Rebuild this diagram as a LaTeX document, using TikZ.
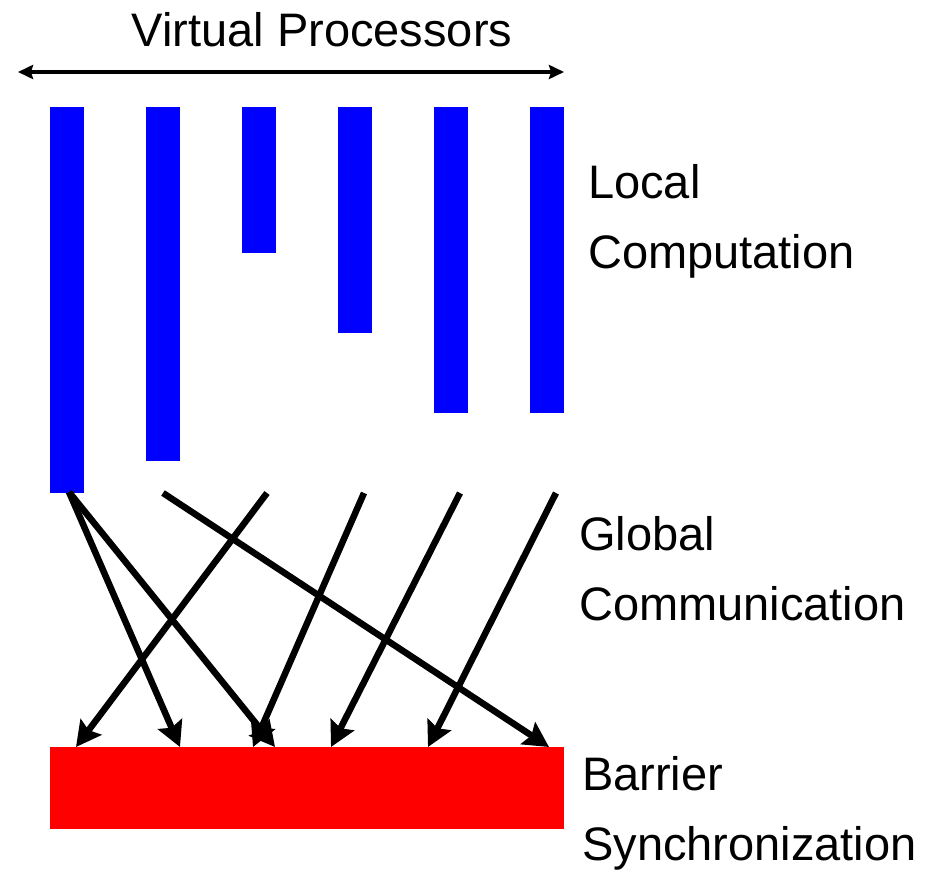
\documentclass[tikz,border=0pt]{standalone}
\usepackage{fontspec}
\setmainfont{Liberation Sans}
\usetikzlibrary{arrows.meta}
\definecolor{procblue}{RGB}{0,0,255}
\definecolor{barred}{RGB}{255,0,0}
\tikzset{
  procbar/.style={fill=procblue, draw=none, inner sep=0pt, outer sep=0pt,
    minimum width=34pt, anchor=north west},
  barrierbar/.style={fill=barred, draw=none, inner sep=0pt, outer sep=0pt,
    minimum width=514pt, minimum height=82pt, anchor=north west},
  msg/.style={line width=6.5pt, -{Stealth[length=25pt,width=26pt,inset=4pt]}},
  span/.style={line width=4pt, {Stealth[length=15pt,width=14pt,inset=2pt]}-{Stealth[length=15pt,width=14pt,inset=2pt]}},
  lbl/.style={font=\fontsize{47}{70}\selectfont, align=left, anchor=base west, inner sep=0pt},
}
\begin{document}
\begin{tikzpicture}[x=1pt, y=-1pt]
\useasboundingbox (0,0) rectangle (929,872);

% heading and span arrow
\node[font=\fontsize{47}{56}\selectfont, anchor=base, inner sep=0pt] (title) at (322,47) {Virtual Processors};
\coordinate (spanL) at (18,72);
\coordinate (spanR) at (564,72);
\draw[span] (spanL) -- (spanR);

% local computation per processor
\node[procbar, minimum height=386pt] (p1) at (50,107) {};
\node[procbar, minimum height=354pt] (p2) at (146,107) {};
\node[procbar, minimum height=146pt] (p3) at (242,107) {};
\node[procbar, minimum height=226pt] (p4) at (338,107) {};
\node[procbar, minimum height=306pt] (p5) at (434,107) {};
\node[procbar, minimum height=306pt] (p6) at (530,107) {};

% barrier
\node[barrierbar] (barrier) at (50,747) {};

% message start and end points
\coordinate (s1) at (69,492);
\coordinate (s2) at (163,493);
\coordinate (s3) at (267,493);
\coordinate (s4) at (364,493);
\coordinate (s5) at (460,493);
\coordinate (s6) at (556,493);
\coordinate (t1) at (76,747);
\coordinate (t2) at (180,747);
\coordinate (t3) at (275,747);
\coordinate (t4) at (253,747);
\coordinate (t5) at (331,747);
\coordinate (t6) at (428,747);
\coordinate (t7) at (549,747);

% global communication
\draw[msg] (s1) -- (t2);
\draw[msg] (s1) -- (t3);
\draw[msg] (s2) -- (t7);
\draw[msg] (s3) -- (t1);
\draw[msg] (s4) -- (t4);
\draw[msg] (s5) -- (t5);
\draw[msg] (s6) -- (t6);

% phase labels (anchored at the baseline of the second line)
\node[lbl] (local) at (588,268) {Local\\Computation};
\node[lbl] (global) at (579,620) {Global\\Communication};
\node[lbl] (sync) at (582,860) {Barrier\\Synchronization};
\end{tikzpicture}
\end{document}
